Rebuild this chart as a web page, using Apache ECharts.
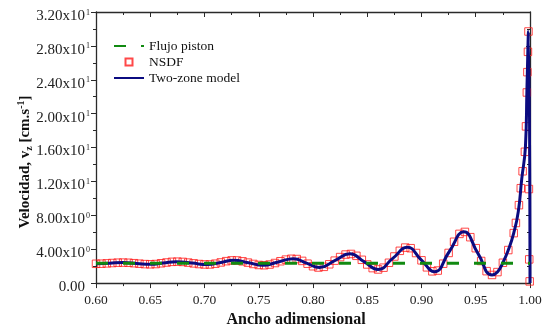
<!DOCTYPE html>
<html><head><meta charset="utf-8">
<script src="https://cdn.jsdelivr.net/npm/echarts@6/dist/echarts.min.js"></script>
<style>html,body{margin:0;padding:0;background:#fff}#c{width:549px;height:333px}</style>
</head><body><div id="c"></div>
<script>
const xTickLabels = ['0.60','0.65','0.70','0.75','0.80','0.85','0.90','0.95','1.00'];
const yTickLabels = ['0.00{h|0}','4.00x10{s|0}','8.00x10{s|0}','1.20x10{s|1}','1.60x10{s|1}','2.00x10{s|1}','2.40x10{s|1}','2.80x10{s|1}','3.20x10{s|1}'];
const seriesNames = ['Flujo piston','NSDF','Two-zone model'];

const pistonX = [0.60, 1.00];
const pistonV = [2.33, 2.33];

const twoZoneX = [0.600,0.6125,0.625,0.6375,0.650,0.662,0.674,0.6885,0.703,0.715,0.727,0.7405,0.754,0.768,0.782,0.794,0.806,0.820,0.834,0.847,0.860,0.8735,0.887,0.8995,0.912,0.9255,0.939,0.952,0.965,0.970,0.975,0.980,0.985,0.9892,0.9924,0.9958,0.9972,0.9986,1.000];
const twoZoneV = [2.28,2.35,2.42,2.32,2.22,2.37,2.53,2.36,2.19,2.44,2.69,2.40,2.11,2.50,2.88,2.36,1.84,2.65,3.45,2.53,1.61,2.92,4.22,2.78,1.34,3.70,6.06,3.51,0.96,1.30,2.40,3.90,5.90,8.44,12.3,16.1,23.0,29.7,0];

const nsdfX = [0.600,0.605,0.610,0.615,0.620,0.625,0.630,0.635,0.640,0.645,0.650,0.655,0.660,0.665,0.670,0.675,0.680,0.685,0.690,0.695,0.700,0.705,0.710,0.715,0.720,0.725,0.730,0.735,0.740,0.745,0.750,0.755,0.760,0.765,0.770,0.775,0.780,0.785,0.790,0.795,0.800,0.805,0.810,0.815,0.820,0.825,0.830,0.835,0.840,0.845,0.850,0.855,0.860,0.865,0.870,0.875,0.880,0.885,0.890,0.895,0.900,0.905,0.910,0.915,0.920,0.925,0.930,0.935,0.940,0.945,0.950,0.955,0.960,0.965,0.970,0.975,0.980,0.985,0.987,0.9898,0.9915,0.9932,0.9953,0.9963,0.9971,0.9976,0.9981,0.9986,0.9990,0.9993,0.9997];
const nsdfV = [2.28,2.29,2.33,2.37,2.41,2.42,2.40,2.35,2.29,2.24,2.22,2.25,2.34,2.43,2.51,2.53,2.50,2.42,2.33,2.25,2.20,2.20,2.29,2.44,2.59,2.68,2.67,2.57,2.42,2.26,2.14,2.11,2.19,2.37,2.58,2.77,2.87,2.84,2.62,2.29,1.99,1.84,1.92,2.22,2.65,3.07,3.37,3.44,3.22,2.75,2.20,1.77,1.61,1.82,2.40,3.14,3.81,4.19,4.12,3.55,2.69,1.86,1.39,1.48,2.29,3.56,4.88,5.81,6.04,5.42,4.12,2.61,1.41,0.96,1.30,2.40,3.90,5.90,7.1,9.2,11.2,13.2,15.5,18.5,22.5,24.9,27.3,29.7,11.1,2.8,0.2];

const zip = (xs, ys) => xs.map((x, i) => [x, ys[i]]);
const FONT = 'Liberation Serif';
const AX = '#2a2a2a';

const chart = echarts.init(document.getElementById('c'), null, {renderer: 'canvas'});

const baseX = {
  type: 'value', min: 0.6, max: 1.0, interval: 0.05,
  axisLine: {show: true, onZero: false, lineStyle: {color: AX, width: 1.3}},
  splitLine: {show: false},
  minorTick: {show: true, splitNumber: 2, length: 3, lineStyle: {color: AX, width: 1}},
  minorSplitLine: {show: false}
};
const baseY = {
  type: 'value', min: 0, max: 32, interval: 4,
  axisLine: {show: true, onZero: false, lineStyle: {color: AX, width: 1.3}},
  splitLine: {show: false},
  minorTick: {show: true, splitNumber: 2, length: 3, lineStyle: {color: AX, width: 1}},
  minorSplitLine: {show: false}
};
const hidden = {color: 'rgba(0,0,0,0)', borderColor: 'rgba(0,0,0,0)', borderWidth: 0};

chart.setOption({
  animation: false,
  backgroundColor: '#fff',
  grid: {left: 96, right: 19, top: 12, bottom: 43, containLabel: false},
  xAxis: [
    Object.assign({}, baseX, {
      position: 'bottom',
      axisTick: {show: true, inside: false, length: 5, lineStyle: {color: AX, width: 1}},
      axisLabel: {show: true, margin: 10, color: '#222', fontFamily: FONT, fontSize: 13.5,
        formatter: v => xTickLabels[Math.round((v - 0.6) / 0.05)]},
      name: 'Ancho adimensional', nameLocation: 'middle', nameGap: 21,
      nameTextStyle: {fontFamily: FONT, fontWeight: 'bold', fontSize: 16, color: '#111', padding: [0, 34, 0, 0]}
    }),
    Object.assign({}, baseX, {
      position: 'top',
      axisTick: {show: true, inside: true, length: 5, lineStyle: {color: AX, width: 1}},
      axisLabel: {show: false}
    })
  ],
  yAxis: [
    Object.assign({}, baseY, {
      position: 'left',
      axisTick: {show: true, inside: false, length: 5, lineStyle: {color: AX, width: 1}},
      axisLabel: {show: true, margin: 6, color: '#222', fontFamily: FONT, fontSize: 15,
        padding: [8, 0, 0, 0],
        formatter: v => yTickLabels[Math.round(v / 4)],
        rich: {
          s: {fontFamily: FONT, fontSize: 8, color: '#222', verticalAlign: 'top', lineHeight: 8, padding: [0, 0, 0, 1]},
          h: {fontFamily: FONT, fontSize: 8, color: 'rgba(0,0,0,0)', verticalAlign: 'top', lineHeight: 8, padding: [0, 0, 0, 1]}
        }}
    }),
    Object.assign({}, baseY, {
      position: 'right',
      axisTick: {show: true, inside: true, length: 4, lineStyle: {color: AX, width: 1}},
      axisLabel: {show: false}
    })
  ],
  legend: {
    data: [
      {name: seriesNames[0], itemStyle: hidden},
      {name: seriesNames[1], icon: 'path://M0,0H10V10H0Z'},
      {name: seriesNames[2], itemStyle: hidden}
    ],
    orient: 'vertical', left: 113, top: 39, padding: 0,
    itemWidth: 30, itemHeight: 7, itemGap: 2,
    symbolKeepAspect: true,
    textStyle: {fontFamily: FONT, fontSize: 13.5, color: '#111', lineHeight: 13}
  },
  graphic: [
    {
      type: 'text', x: 25, y: 162, rotation: Math.PI / 2,
      style: {
        text: 'Velocidad, v{sub|z} [cm.s{sup|-1}]',
        fontFamily: FONT, fontWeight: 'bold', fontSize: 15, fill: '#111',
        align: 'center', verticalAlign: 'middle',
        rich: {
          sub: {fontFamily: FONT, fontWeight: 'bold', fontSize: 10, fill: '#111', verticalAlign: 'bottom', lineHeight: 18},
          sup: {fontFamily: FONT, fontWeight: 'bold', fontSize: 10, fill: '#111', verticalAlign: 'top', lineHeight: 18}
        }
      }
    }
  ],
  series: [
    {
      name: seriesNames[1], type: 'scatter', xAxisIndex: 0, yAxisIndex: 0, z: 2,
      data: zip(nsdfX, nsdfV),
      symbol: 'rect', symbolSize: 7.5,
      itemStyle: {color: 'rgba(255,255,255,0)', borderColor: '#ff1a1a', borderWidth: 1},
      emphasis: {disabled: true}
    },
    {
      name: seriesNames[2], type: 'line', xAxisIndex: 0, yAxisIndex: 0, z: 3,
      data: zip(twoZoneX, twoZoneV),
      smooth: 0.5, showSymbol: false, symbol: 'none',
      lineStyle: {color: '#0b0b80', width: 3},
      itemStyle: {color: '#0b0b80'}
    },
    {
      name: seriesNames[0], type: 'line', xAxisIndex: 0, yAxisIndex: 0, z: 4,
      data: zip(pistonX, pistonV),
      showSymbol: false, symbol: 'none',
      lineStyle: {color: '#118a11', width: 3, type: [12, 15]},
      itemStyle: {color: '#118a11'}
    }
  ]
});
</script>
</body></html>
